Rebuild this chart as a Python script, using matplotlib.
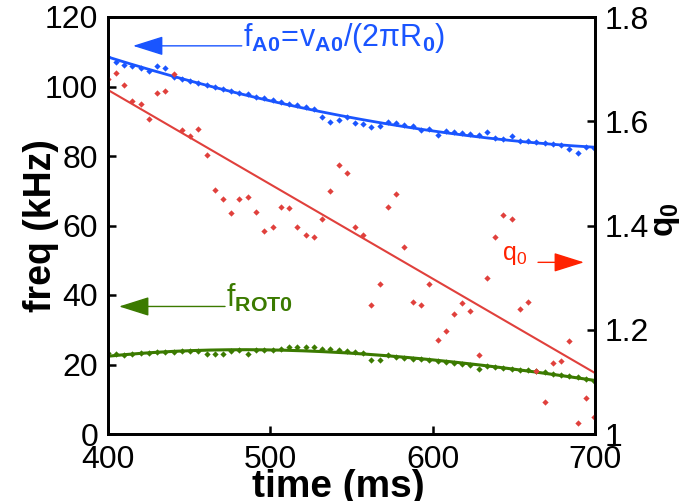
import matplotlib
matplotlib.use("Agg")
import matplotlib.pyplot as plt
import numpy as np

# ---------------- data ----------------
time_ms = [399.8, 404.8, 409.9, 415.0, 420.1, 425.2, 430.2, 435.3, 440.4, 445.5,
           450.6, 455.6, 460.7, 465.8, 470.9, 476.0, 481.0, 486.1, 491.2, 496.3,
           501.4, 506.4, 511.5, 516.6, 521.7, 526.8, 531.8, 536.9, 542.0, 547.1,
           552.2, 557.2, 562.3, 567.4, 572.5, 577.6, 582.6, 587.7, 592.8, 597.9,
           603.0, 608.0, 613.1, 618.2, 623.3, 628.4, 633.4, 638.5, 643.6, 648.7,
           653.8, 658.8, 663.9, 669.0, 674.1, 679.2, 684.2, 689.3, 694.4, 699.5]

f_alfven_khz = [108.5, 107.0, 106.2, 105.8, 105.3, 104.6, 105.9, 105.4, 102.8, 102.2,
                101.6, 101.1, 100.5, 99.9, 99.3, 98.8, 98.2, 97.7, 97.1, 96.6,
                96.1, 95.6, 95.1, 94.6, 94.1, 93.6, 91.1, 89.8, 90.4, 91.1,
                89.6, 89.2, 88.3, 88.6, 89.8, 89.4, 89.0, 88.6, 87.6, 87.9,
                86.0, 87.2, 86.8, 86.5, 86.2, 85.9, 86.9, 85.3, 85.0, 85.8,
                84.4, 84.2, 83.9, 83.7, 83.5, 83.2, 82.1, 81.0, 82.6, 82.4]

f_rot_khz = [23.2, 22.9, 22.8, 23.1, 23.2, 23.4, 23.5, 23.6, 23.7, 23.8,
             23.9, 24.0, 23.0, 23.1, 23.0, 24.0, 24.1, 23.0, 24.2, 24.3,
             24.3, 24.4, 25.0, 25.1, 25.0, 24.9, 24.6, 24.4, 24.2, 24.0,
             23.7, 23.4, 21.4, 21.4, 22.6, 22.3, 22.0, 21.7, 21.5, 21.2,
             21.0, 20.8, 20.5, 20.2, 20.0, 18.6, 19.6, 19.3, 19.0, 18.8,
             18.5, 18.3, 18.0, 17.7, 17.4, 17.0, 16.7, 16.3, 15.8, 15.2]

q0_values = [1.682, 1.692, 1.669, 1.638, 1.634, 1.605, 1.655, 1.658, 1.690, 1.584,
             1.572, 1.586, 1.536, 1.468, 1.451, 1.424, 1.451, 1.454, 1.426, 1.390,
             1.397, 1.436, 1.434, 1.397, 1.381, 1.377, 1.412, 1.466, 1.517, 1.501,
             1.397, 1.381, 1.247, 1.287, 1.436, 1.460, 1.358, 1.253, 1.247, 1.288,
             1.180, 1.198, 1.230, 1.251, 1.236, 1.151, 1.300, 1.378, 1.421, 1.413,
             1.239, 1.253, 1.121, 1.061, 1.136, 1.140, 1.178, 1.022, 1.069, 1.033]

q0_fit_time = [400, 700]
q0_fit = [1.660, 1.117]

freq_ticks = [0, 20, 40, 60, 80, 100, 120]
q0_ticks = [1.0, 1.2, 1.4, 1.6, 1.8]
q0_tick_labels = ["1", "1.2", "1.4", "1.6", "1.8"]
time_ticks = [400, 500, 600, 700]

# ---------------- style ----------------
plt.rcParams["font.family"] = ["Liberation Sans", "DejaVu Sans"]
plt.rcParams["mathtext.fontset"] = "custom"
plt.rcParams["mathtext.rm"] = "Liberation Sans"
plt.rcParams["mathtext.it"] = "Liberation Sans"
plt.rcParams["mathtext.bf"] = "Liberation Sans:bold"

BLUE = "#1a55ff"
GREEN = "#3b7a00"
RED_PTS = "#e0403c"
RED_LBL = "#ff2200"

fig = plt.figure(figsize=(6.81, 5.01), dpi=100)
ax = fig.add_axes([108 / 681, 1 - 434 / 501, 487 / 681, 417 / 501])
ax2 = ax.twinx()

t = np.asarray(time_ms)
tt = np.linspace(400, 700, 300)

# Alfven frequency
ax.plot(t, f_alfven_khz, "D", ms=3.2, color=BLUE, mec="none")
ax.plot(tt, np.polyval(np.polyfit(t, f_alfven_khz, 2), tt), color=BLUE, lw=2.0)
# rotation frequency
ax.plot(t, f_rot_khz, "D", ms=3.2, color=GREEN, mec="none")
ax.plot(tt, np.polyval(np.polyfit(t, f_rot_khz, 3), tt), color=GREEN, lw=2.2)
# q0
ax2.plot(t, q0_values, "D", ms=3.2, color=RED_PTS, mec="none")
ax2.plot(q0_fit_time, q0_fit, color=RED_PTS, lw=1.5)

ax.set_xlim(400, 700)
ax.set_ylim(0, 120)
ax2.set_ylim(1.0, 1.8)

ax.set_xticks(time_ticks)
ax.set_xticklabels([str(v) for v in time_ticks])
ax.set_yticks(freq_ticks)
ax.set_yticklabels([str(v) for v in freq_ticks])
ax2.set_yticks(q0_ticks)
ax2.set_yticklabels(q0_tick_labels)

ax.tick_params(axis="both", direction="in", length=6, width=1.8, labelsize=23, pad=7)
ax.tick_params(axis="x", pad=8, top=False)
ax.tick_params(axis="y", right=False)
ax2.tick_params(axis="y", direction="in", length=6, width=1.8, labelsize=23, pad=7)
for a in (ax, ax2):
    for s in a.spines.values():
        s.set_linewidth(2.0)

# axis labels
fig.text(338 / 681, 1 - 487 / 501, "time (ms)", ha="center", va="center",
         fontsize=28, fontweight="bold")
fig.text(41 / 681, 1 - 226 / 501, "freq (kHz)", ha="center", va="center",
         fontsize=27, fontweight="bold", rotation=90)
fig.text(666 / 681, 1 - 220 / 501, r"$\mathbf{q}_{\mathbf{0}}$", ha="center", va="center",
         fontsize=24, rotation=90)

# annotations
arrow_kw = dict(arrowstyle="-|>,head_length=1.9,head_width=0.6", mutation_scale=10, lw=1.0,
                shrinkA=0, shrinkB=0)
ax.annotate("", xy=(415.4, 111.7), xytext=(482.4, 111.7),
            arrowprops=dict(color=BLUE, **arrow_kw))
ax.text(483.2, 111.7,
        r"$\mathrm{f}_{\mathbf{A0}}\!=\!\mathrm{v}_{\mathbf{A0}}\mathrm{/(2\pi R}_{\mathbf{0}}\mathrm{)}$",
        color=BLUE, fontsize=22, ha="left", va="baseline")

ax.annotate("", xy=(406.8, 36.7), xytext=(472.1, 36.7),
            arrowprops=dict(color=GREEN, **arrow_kw))
ax.text(472.7, 36.7, r"$\mathrm{f}_{\mathbf{ROT0}}$", color=GREEN, fontsize=22,
        ha="left", va="baseline")

ax.annotate("", xy=(693.2, 49.4), xytext=(664.9, 49.4),
            arrowprops=dict(color=RED_LBL, **arrow_kw))
ax.text(642.7, 50.2, r"$\mathrm{q}_{\mathrm{0}}$", color=RED_LBL, fontsize=18,
        ha="left", va="baseline")

fig.savefig("out.png", dpi=100)
